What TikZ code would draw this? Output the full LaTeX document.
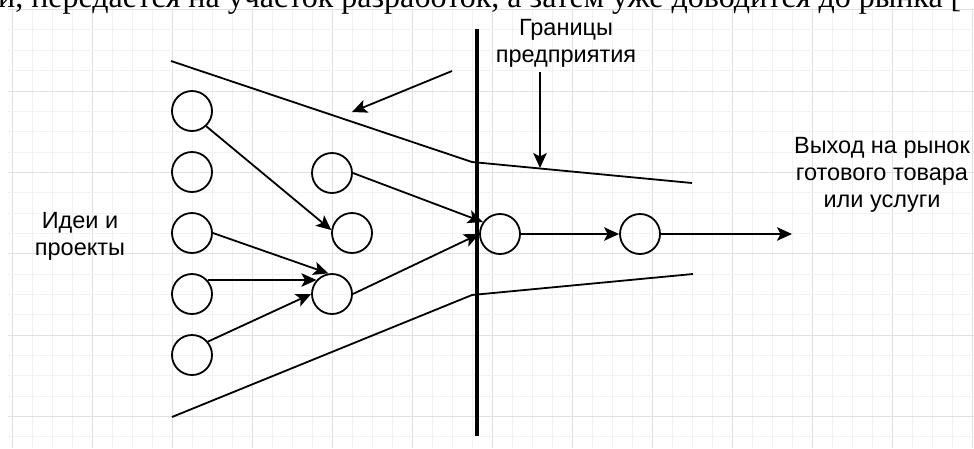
\documentclass[tikz,border=0pt]{standalone}
\usepackage{fontspec}
\setmainfont{Liberation Sans}
\newfontfamily\serifcut{Liberation Serif}
\usetikzlibrary{arrows.meta}
\begin{document}
\begin{tikzpicture}[x=1pt,y=-1pt,
  circ/.style={circle,draw=black,line width=1.8pt,minimum size=40pt,inner sep=0pt},
  conn/.style={line width=1.8pt,-{Stealth[length=15pt,width=13.5pt,inset=3.5pt]}},
  bound/.style={line width=1.8pt},
  wall/.style={line width=3.6pt},
  lbl/.style={align=center,font=\fontsize{23.5}{27}\selectfont,inner sep=0pt},
  gridminor/.style={draw=black!5,line width=1pt},
  gridmajor/.style={draw=black!12,line width=1pt}]
\useasboundingbox (0,0) rectangle (974,448);
\begin{scope}
\clip (0,0) rectangle (974,448);
\fill[white] (0,0) rectangle (974,448);
% grid
\foreach \k in {0,...,48} {
  \pgfmathtruncatemacro{\m}{mod(\k,4)}
  \ifnum\m=0
    \draw[gridmajor] ({12.7+20*\k},10) -- ({12.7+20*\k},448);
  \else
    \draw[gridminor] ({12.7+20*\k},10) -- ({12.7+20*\k},448);
  \fi
}
\foreach \k in {0,...,21} {
  \pgfmathtruncatemacro{\m}{mod(\k,4)}
  \ifnum\m=0
    \draw[gridmajor] (8,{9.6+20.35*\k}) -- (974,{9.6+20.35*\k});
  \else
    \draw[gridminor] (8,{9.6+20.35*\k}) -- (974,{9.6+20.35*\k});
  \fi
}
% cut-off text line at the top
\node[anchor=base west,inner sep=0pt,font=\serifcut\fontsize{32}{38}\selectfont] (toptext) at (-2,7.5)
  {и, передается на участок разработок, а затем уже доводится до рынка [};
\end{scope}

% funnel boundaries
\coordinate (t1) at (171,61);
\coordinate (t2) at (472,162);
\coordinate (t3) at (692,183);
\coordinate (b1) at (172,417);
\coordinate (b2) at (472,295);
\coordinate (b3) at (693,274);
\draw[bound] (t1) -- (t2) -- (t3);
\draw[bound] (b1) -- (b2) -- (b3);

% enterprise border
\coordinate (vt) at (477,29);
\coordinate (vb) at (477,436);
\draw[wall] (vt) -- (vb);

% circles
\node[circ] (c1) at (192,111) {};
\node[circ] (c2) at (192,172) {};
\node[circ] (c3) at (192,233) {};
\node[circ] (c4) at (192,294) {};
\node[circ] (c5) at (192,355) {};
\node[circ] (m1) at (332,173) {};
\node[circ] (m2) at (352,233) {};
\node[circ] (m3) at (332,294) {};
\node[circ] (r1) at (500,234) {};
\node[circ] (r2) at (640,234) {};

% connectors
\draw[conn] (c1.-47) -- (m2.172);
\draw[conn] (m1.east) -- (r1.145);
\draw[conn] (c3.east) -- (m3.100);
\draw[conn] (c4.42) -- (m3.138);
\draw[conn] (c5.40) -- (m3.west);
\draw[conn] (m3.east) -- (r1.west);
\draw[conn] (r1.east) -- (r2.west);
\coordinate (out) at (792,234);
\draw[conn] (r2.east) -- (out);

% pointer arrows
\coordinate (pa) at (452,71);
\coordinate (pb) at (352,112);
\draw[conn] (pa) -- (pb);
\coordinate (ga) at (540,72);
\coordinate (gb) at (540,168);
\draw[conn] (ga) -- (gb);

% labels (base anchor = baseline of the last line)
\node[lbl,anchor=base] (ideas) at (80,255) {Идеи и\\проекты};
\node[lbl,anchor=base] (borders) at (566,62) {Границы\\предприятия};
\node[lbl,anchor=base] (market) at (882,207) {Выход на рынок\\готового товара\\или услуги};
\end{tikzpicture}
\end{document}
